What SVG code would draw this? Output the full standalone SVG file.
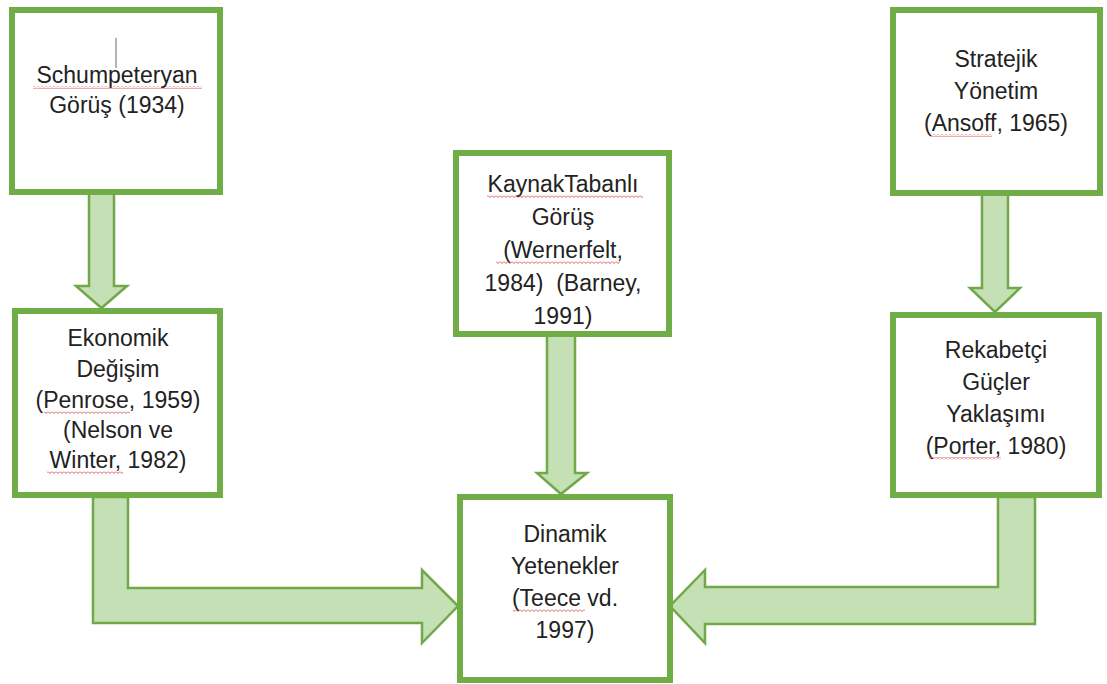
<svg xmlns="http://www.w3.org/2000/svg" width="1107" height="684" viewBox="0 0 1107 684">
<defs>
<pattern id="wave" x="0" y="0" width="4" height="3" patternUnits="userSpaceOnUse">
<polyline points="0,0.5 2,2.5 4,0.5" fill="none" stroke="#d9484d" stroke-width="0.9"/>
</pattern>
<style>
.box{fill:#ffffff;stroke:#70ad47;stroke-width:6}
.arr{fill:#c5e0b4;stroke:#70a84a;stroke-width:2.5;stroke-linejoin:miter}
.t{font-family:"Liberation Sans",Arial,sans-serif;font-size:23px;fill:#222222;text-anchor:middle}
.sp{fill:url(#wave)}
</style>
</defs>
<rect width="1107" height="684" fill="#ffffff"/>
<g id="connectors">
<polygon class="arr" points="89,193 114,193 114,286 127,286 101.5,308 76,286 89,286"/>
<polygon class="arr" points="982,193 1008,193 1008,288 1020,288 995,312 970,288 982,288"/>
<polygon class="arr" points="547,335 575,335 575,473 587,473 561,494 537,473 547,473"/>
<polygon class="arr" points="93,497 128,497 128,588 422,588 422,570 458,606 422,643 422,623 93,623"/>
<polygon class="arr" points="1035,497 998,497 998,587 705,587 705,570 670,606 705,643 705,624 1035,624"/>
</g>
<g id="n1">
<rect class="box" x="12" y="10" width="208" height="182"/>
<line x1="116" y1="38" x2="116" y2="68" stroke="#6b6b6b" stroke-width="1"/>
<text class="t" x="117" y="83">Schumpeteryan</text>
<text class="t" x="117" y="113">Görüş (1934)</text>
<rect class="sp" x="33" y="86" width="169" height="3"/>
</g>
<g id="n2">
<rect class="box" x="15" y="311" width="205" height="184"/>
<text class="t" x="118" y="346">Ekonomik</text>
<text class="t" x="118" y="377">Değişim</text>
<text class="t" x="118" y="408">(Penrose, 1959)</text>
<text class="t" x="118" y="438">(Nelson ve</text>
<text class="t" x="118" y="468">Winter, 1982)</text>
<rect class="sp" x="44" y="411" width="86" height="3"/>
<rect class="sp" x="47" y="471" width="76" height="3"/>
</g>
<g id="n3">
<rect class="box" x="456" y="153" width="213" height="181"/>
<text class="t" x="563" y="192">KaynakTabanlı</text>
<text class="t" x="563" y="225">Görüş</text>
<text class="t" x="563" y="258">(Wernerfelt,</text>
<text class="t" x="563" y="291">1984)&#160; (Barney,</text>
<text class="t" x="563" y="324">1991)</text>
<rect class="sp" x="487" y="195" width="156" height="3"/>
<rect class="sp" x="496" y="261" width="124" height="3"/>
</g>
<g id="n4">
<rect class="box" x="460" y="497" width="210" height="183"/>
<text class="t" x="565" y="542">Dinamik</text>
<text class="t" x="565" y="574">Yetenekler</text>
<text class="t" x="565" y="606">(Teece vd.</text>
<text class="t" x="565" y="638">1997)</text>
<rect class="sp" x="513" y="609" width="72" height="3"/>
</g>
<g id="n5">
<rect class="box" x="893" y="10" width="207" height="183"/>
<text class="t" x="996" y="67">Stratejik</text>
<text class="t" x="996" y="99">Yönetim</text>
<text class="t" x="996" y="131">(Ansoff, 1965)</text>
<rect class="sp" x="930" y="134" width="62" height="3"/>
</g>
<g id="n6">
<rect class="box" x="893" y="315" width="206" height="180"/>
<text class="t" x="996" y="358">Rekabetçi</text>
<text class="t" x="996" y="390">Güçler</text>
<text class="t" x="996" y="422">Yaklaşımı</text>
<text class="t" x="996" y="454">(Porter, 1980)</text>
<rect class="sp" x="929" y="457" width="72" height="3"/>
</g>
</svg>
